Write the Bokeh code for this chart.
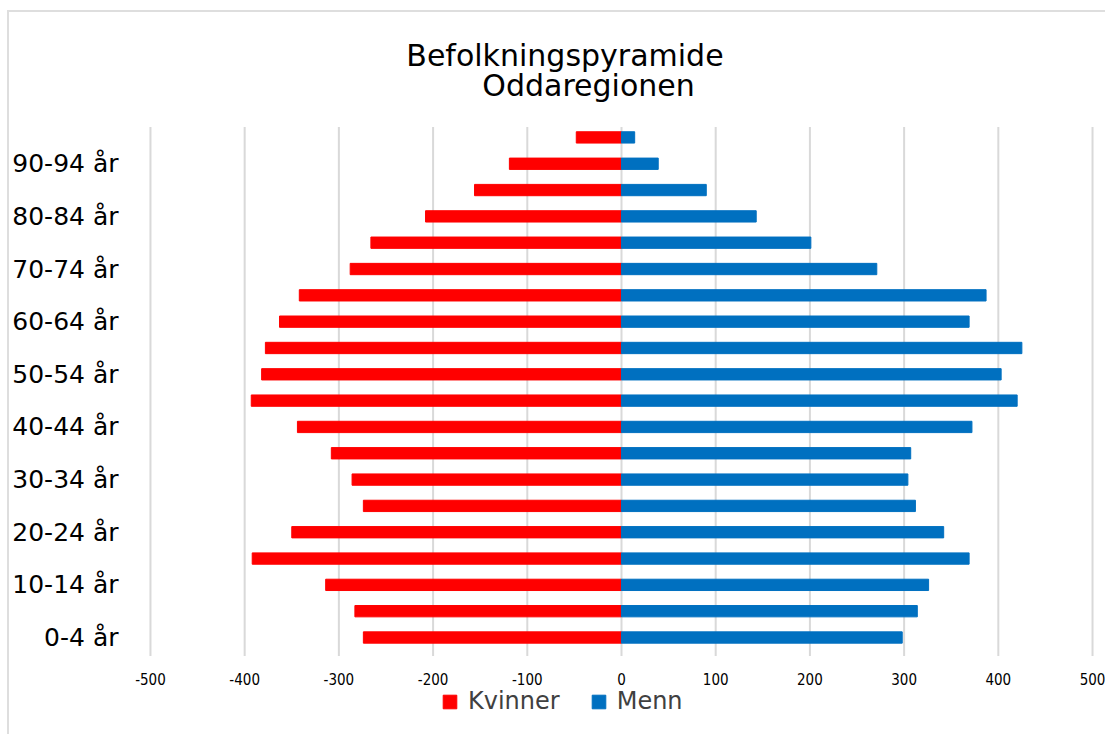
from bokeh.plotting import figure
from bokeh.models import (ColumnDataSource, FixedTicker, Legend, LegendItem, Label,
                          Range1d, LinearAxis)
from bokeh.embed import file_html
from bokeh.resources import INLINE

age_groups = ["0-4 år", "5-9 år", "10-14 år", "15-19 år", "20-24 år", "25-29 år",
              "30-34 år", "35-39 år", "40-44 år", "45-49 år", "50-54 år", "55-59 år",
              "60-64 år", "65-69 år", "70-74 år", "75-79 år", "80-84 år", "85-89 år",
              "90-94 år", "95+ år"]
kvinner = [274, 283, 314, 392, 350, 274, 286, 308, 344, 393,
           382, 378, 363, 342, 288, 266, 208, 156, 119, 48]
menn = [298, 314, 326, 369, 342, 312, 304, 307, 372, 420,
        403, 425, 369, 387, 271, 201, 143, 90, 39, 14]
x_ticks = [-500, -400, -300, -200, -100, 0, 100, 200, 300, 400, 500]
title_lines = ["Befolkningspyramide", "Oddaregionen"]

n = len(age_groups)
idx = list(range(n))
src = ColumnDataSource(dict(
    y=idx,
    kv=[-v for v in kvinner],
    me=menn,
    zero=[0] * n,
    age=age_groups,
))

# frame covers the whole drawing area; the ranges leave room for title, tick labels and legend
p = figure(width=1098, height=724,
           min_border_left=116, min_border_right=0, min_border_top=2, min_border_bottom=2,
           x_range=Range1d(-526.5, 515.9), y_range=Range1d(-3.685, 23.67),
           x_axis_location=None,
           output_backend="svg", toolbar_location=None,
           background_fill_color="white", border_fill_color="white",
           outline_line_color=None)
p.styles = {"border-top": "2px solid #dedede", "border-left": "2px solid #dedede",
            "margin-top": "10px", "margin-left": "7px"}

# vertical grid lines, only across the bar area
grid_src = ColumnDataSource(dict(x=x_ticks, y0=[-0.5 - 0.2] * len(x_ticks),
                                 y1=[n - 0.5 - 0.1] * len(x_ticks)))
p.segment(x0="x", x1="x", y0="y0", y1="y1", line_color="#d9d9d9", line_width=2,
          source=grid_src)

r_k = p.hbar(y="y", left="kv", right="zero", height=0.43, color="#FF0000", source=src)
r_m = p.hbar(y="y", left="zero", right="me", height=0.43, color="#0070C0", source=src)

# x axis fixed just under the bars
xaxis = LinearAxis(fixed_location=-0.5, ticker=FixedTicker(ticks=x_ticks))
xaxis.major_label_overrides = {t: str(t) for t in x_ticks}
xaxis.axis_line_color = None
xaxis.major_tick_line_color = None
xaxis.minor_tick_line_color = None
xaxis.major_tick_out = 0
xaxis.major_tick_in = 0
xaxis.major_label_standoff = 22
xaxis.major_label_text_font = "DejaVu Sans Condensed"
xaxis.major_label_text_font_size = "15px"
xaxis.major_label_text_color = "#000000"
p.add_layout(xaxis, "below")

p.yaxis.ticker = FixedTicker(ticks=idx[::2])
p.yaxis.major_label_overrides = {i: age_groups[i] for i in idx[::2]}
p.yaxis.axis_line_color = None
p.yaxis.major_tick_line_color = None
p.yaxis.minor_tick_line_color = None
p.yaxis.major_tick_out = 0
p.yaxis.major_tick_in = 0
p.yaxis.major_label_standoff = 7
p.yaxis.major_label_text_font = "DejaVu Sans"
p.yaxis.major_label_text_font_size = "25px"
p.yaxis.major_label_text_color = "#000000"

p.xgrid.grid_line_color = None
p.ygrid.grid_line_color = None

# Title (two lines)
p.add_layout(Label(x=-60.0, y=n - 0.5 + 2.62, text=title_lines[0], text_align="center",
                   text_baseline="middle", text_font="DejaVu Sans", text_font_size="30px",
                   text_color="#000000"))
p.add_layout(Label(x=-35.0, y=n - 0.5 + 1.48, text=title_lines[1], text_align="center",
                   text_baseline="middle", text_font="DejaVu Sans", text_font_size="30px",
                   text_color="#000000"))

legend = Legend(items=[LegendItem(label="Kvinner", renderers=[r_k]),
                       LegendItem(label="Menn", renderers=[r_m])],
                orientation="horizontal", location=(316, 19),
                border_line_color=None, background_fill_alpha=0,
                margin=0, padding=0, spacing=30,
                glyph_width=17, glyph_height=17, label_standoff=10,
                label_text_font="DejaVu Sans", label_text_font_size="24px",
                label_text_color="#404040")
p.add_layout(legend, "center")

open("out.html", "w").write(file_html(p, INLINE))
